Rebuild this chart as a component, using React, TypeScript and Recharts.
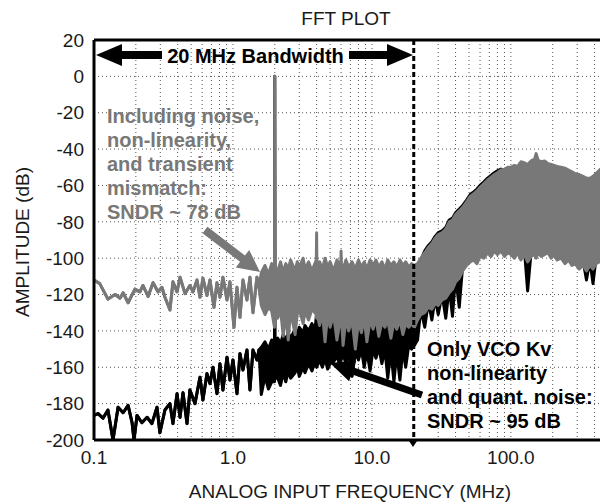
import React from 'react';
import { ComposedChart, Area, Line, XAxis, YAxis, CartesianGrid, ReferenceLine } from 'recharts';

const FONT = '"Liberation Sans", Arial, Helvetica, sans-serif';

const chartTitle = 'FFT PLOT';
const xTitle = 'ANALOG INPUT FREQUENCY (MHz)';
const yTitle = 'AMPLITUDE (dB)';

// log grid: every decade step, labels only on the decades
const xGridTicks = [
    0.1, 0.2, 0.3, 0.4, 0.5, 0.6, 0.7, 0.8, 0.9,
    1, 2, 3, 4, 5, 6, 7, 8, 9,
    10, 20, 30, 40, 50, 60, 70, 80, 90,
    100, 200, 300, 400, 500,
];
const xLabelTicks = [0.1, 1, 10, 100];
const yTicks = [-200, -180, -160, -140, -120, -100, -80, -60, -40, -20, 0, 20];

// [MHz, dB] - sparse part of the traces
const grayTrace = [
    [0.1, -112], [0.11, -114], [0.126, -122.5], [0.142, -120], [0.154, -122], [0.162, -119],
    [0.176, -124.5], [0.197, -117], [0.214, -118.5], [0.225, -115], [0.245, -121], [0.266, -113.5],
    [0.289, -118.5], [0.308, -116], [0.324, -121.5], [0.352, -128.5], [0.37, -113], [0.396, -118.5],
    [0.416, -110.5], [0.452, -119.5], [0.49, -115], [0.516, -118.5], [0.551, -112], [0.579, -121.5],
    [0.608, -111], [0.65, -120.5], [0.683, -112], [0.73, -127], [0.767, -113.5], [0.806, -121.5],
    [0.847, -110.5], [0.906, -123], [0.951, -113], [1.017, -138], [1.069, -116], [1.123, -132.5],
    [1.18, -112], [1.261, -123], [1.325, -110.5], [1.393, -130], [1.488, -110.5], [1.538, -116],
];

// [MHz, top dB, bottom dB] - dense part of the traces
const grayBand = [
    [1.6, -108, -126], [1.7, -104, -131], [1.8, -109, -127], [1.9, -103, -129], [1.99, -106, -138],
    [2.0, 0, -135], [2.01, -105, -130], [2.1, -107, -133], [2.2, -102, -128], [2.3, -108, -143],
    [2.4, -103, -130], [2.5, -106, -145], [2.6, -101, -129], [2.8, -107, -142], [2.9, -102, -131],
    [3.0, -105, -128], [3.2, -100, -136], [3.3, -106, -129], [3.5, -102, -134], [3.7, -107, -128],
    [3.98, -101, -131], [4.0, -86, -133], [4.02, -104, -130], [4.2, -102, -137], [4.4, -106, -130],
    [4.6, -100, -146], [4.8, -105, -131], [5.0, -102, -138], [5.3, -107, -131], [5.6, -101, -145],
    [5.97, -105, -132], [6.0, -96, -137], [6.03, -103, -132], [6.2, -106, -148], [6.5, -101, -133],
    [6.8, -105, -140], [7.2, -102, -134], [7.6, -106, -150], [8.0, -101, -135], [8.4, -105, -141],
    [8.8, -102, -133], [9.2, -106, -146], [9.7, -101, -134], [10.2, -104, -139], [10.7, -101, -133],
    [11.2, -105, -143], [11.8, -102, -135], [12.4, -106, -138], [13, -101, -134], [13.7, -104, -144],
    [14.4, -102, -135], [15.1, -105, -139], [15.9, -101, -134], [16.7, -104, -142], [17.5, -102, -136],
    [18.4, -105, -138], [19.3, -103, -136], [20.2, -104, -138],
    [21.3, -103, -134], [22.5, -100, -131], [24, -97, -130], [25.5, -94, -127], [27, -92, -128],
    [28.5, -89, -125], [30, -87, -126], [32, -86, -123], [34, -84, -122], [36, -80, -119],
    [38, -79, -117], [40, -76, -113], [42.5, -74, -111], [45, -72, -107], [48, -69, -104],
    [51, -66, -102], [54, -64.5, -101], [57, -63, -103], [60, -61, -99], [64, -59, -100],
    [68, -57, -97], [72, -55.5, -99], [76, -54, -96], [80, -53, -98], [85, -51.5, -96],
    [90, -51, -99], [95, -50, -97], [100, -50, -98], [106, -49, -100], [112, -49.5, -97],
    [118, -47, -101], [125, -47.5, -98], [132, -48.5, -102], [140, -46.5, -99], [148, -45.5, -98],
    [152, -42.5, -100], [157, -46, -97], [165, -47, -99], [175, -46.5, -98], [185, -48, -97],
    [195, -48.5, -100], [205, -49, -98], [215, -49.5, -101], [230, -50, -100], [245, -50.5, -103],
    [260, -51.5, -101], [275, -52.5, -104], [290, -53.5, -103], [310, -54, -106], [330, -55, -104],
    [350, -56, -107], [370, -56, -104], [390, -55, -106], [410, -53.5, -103], [435, -51.5, -102],
    [460, -50, -101], [485, -51, -102], [500, -51, -101],
];

const blackTrace = [
    [0.1, -186.5], [0.107, -185.5], [0.116, -188], [0.126, -183.5], [0.137, -200], [0.149, -182],
    [0.162, -185], [0.176, -181], [0.188, -190.5], [0.194, -200], [0.204, -186.5], [0.221, -190.5],
    [0.241, -187.5], [0.261, -191], [0.284, -182], [0.298, -196], [0.324, -183.5], [0.352, -180],
    [0.37, -191], [0.396, -174.5], [0.416, -187.5], [0.437, -174], [0.467, -191], [0.49, -172.5],
    [0.533, -180], [0.579, -165.5], [0.608, -178], [0.65, -163.5], [0.683, -169], [0.718, -160],
    [0.767, -174.5], [0.806, -158], [0.847, -172.5], [0.906, -154.5], [0.951, -167], [1.0, -156],
    [1.069, -174.5], [1.123, -152.5], [1.18, -161.5], [1.261, -150.5], [1.325, -172.5], [1.393, -150.5],
    [1.488, -156], [1.538, -150.5],
];

const blackBand = [
    [1.6, -149, -175], [1.7, -146, -165], [1.8, -150, -172], [1.9, -145, -168], [1.99, -147, -168],
    [2.0, 0, -152], [2.01, -146, -166], [2.1, -144, -166], [2.2, -147, -170], [2.3, -142, -163],
    [2.4, -145, -168], [2.5, -141, -162], [2.6, -144, -166], [2.8, -139, -163], [2.9, -142, -159],
    [3.0, -138, -165], [3.2, -141, -160], [3.3, -137, -163], [3.5, -140, -158], [3.7, -136, -162],
    [3.9, -139, -157], [4.0, -130, -160], [4.2, -138, -156], [4.4, -134, -160], [4.6, -137, -155],
    [4.8, -133, -161], [5.0, -136, -158], [5.3, -132, -157], [5.6, -135, -154], [5.9, -131, -159],
    [6.0, -128, -156], [6.2, -134, -153], [6.5, -131, -158], [6.8, -133, -152], [7.2, -130, -165],
    [7.6, -134, -152], [8.0, -131, -156], [8.4, -133, -150], [8.8, -130, -160], [9.2, -133, -151],
    [9.7, -130, -162], [10.2, -132, -150], [10.7, -129, -155], [11.2, -133, -149], [11.8, -130, -158],
    [12.4, -132, -150], [13, -129, -166], [13.7, -133, -151], [14.4, -130, -168], [15.1, -133, -152],
    [15.9, -131, -167], [16.7, -134, -150], [17.5, -131, -160], [18.4, -134, -148], [19.3, -133, -150],
    [20.2, -135, -148],
    [21.3, -104, -145], [22.5, -101, -128], [24, -96, -138], [25.5, -93, -124], [27, -91, -134],
    [28.5, -88, -122], [30, -86, -131], [32, -85, -120], [34, -83, -133], [36, -79, -116],
    [38, -78, -132], [40, -75, -110], [42.5, -73, -127], [45, -71, -104], [48, -68, -101],
    [51, -65, -99], [54, -63.5, -98], [57, -62, -100], [60, -60, -96], [64, -58, -97],
    [68, -56, -94], [72, -54.5, -96], [76, -53, -93], [80, -52, -95], [85, -51, -93],
    [90, -51.5, -96], [95, -51.5, -94], [100, -52, -95], [106, -51, -97], [112, -51.5, -94],
    [118, -49, -98], [125, -49.5, -95], [132, -50.5, -118], [140, -48.5, -96], [148, -47.5, -95],
    [152, -44.5, -97], [157, -48, -94], [165, -49, -96], [175, -48.5, -95], [185, -50, -94],
    [195, -50.5, -97], [205, -51, -95], [215, -51.5, -98], [230, -52, -97], [245, -52.5, -100],
    [260, -53.5, -98], [275, -54.5, -101], [290, -55.5, -100], [310, -56, -103], [330, -57, -101],
    [350, -58, -112], [370, -58, -101], [390, -57, -114], [410, -55.5, -100], [435, -53.5, -99],
    [460, -52, -98], [485, -53, -99], [500, -53, -98],
];

// 20 MHz band edge, drawn as a series so the traces sit on top of it
const bandEdge = [
    { f: 20, v: 20 },
    { f: 20, v: -200 },
];
const bandwidthLabel = '20 MHz Bandwidth';
const grayNote = ['Including noise,', 'non-linearity,', 'and transient', 'mismatch:', 'SNDR ~ 78 dB'];
const blackNote = ['Only VCO Kv', 'non-linearity', 'and quant. noise:', 'SNDR ~ 95 dB'];

const GRAY = '#787878';

// sparse points become zero-height ranges so one Area draws the whole trace
function toSeries(trace: number[][], band: number[][]) {
    return [
        ...trace.map(([f, v]) => ({ f, r: [v, v] })),
        ...band.map(([f, hi, lo]) => ({ f, r: [lo, hi] })),
    ];
}

const graySeries = toSeries(grayTrace, grayBand);
const blackSeries = toSeries(blackTrace, blackBand);

function Arrow({ from, to, shaft, headLen, headHalf, color }: {
    from: number[]; to: number[]; shaft: number; headLen: number; headHalf: number; color: string;
}) {
    const dx = to[0] - from[0];
    const dy = to[1] - from[1];
    const len = Math.hypot(dx, dy);
    const ux = dx / len, uy = dy / len;
    const nx = -uy, ny = ux;
    const bx = to[0] - ux * headLen, by = to[1] - uy * headLen;
    const s = shaft / 2;
    const pts = [
        [from[0] + nx * s, from[1] + ny * s],
        [bx + nx * s, by + ny * s],
        [bx + nx * headHalf, by + ny * headHalf],
        to,
        [bx - nx * headHalf, by - ny * headHalf],
        [bx - nx * s, by - ny * s],
        [from[0] - nx * s, from[1] - ny * s],
    ];
    return <polygon points={pts.map(p => p.join(',')).join(' ')} fill={color} />;
}

export default function App() {
    const tickStyle = { fontSize: 19, fill: '#1a1a1a', fontFamily: FONT };

    return (
        <div style={{ position: 'absolute', left: 0, top: 0, width: 600, height: 502, overflow: 'hidden', background: '#fff', fontFamily: FONT }}>
            <ComposedChart width={620} height={502} margin={{ top: 40, right: 12, bottom: 0, left: 0 }}>
                <CartesianGrid stroke="#555" strokeDasharray="1 3" />
                <XAxis
                    type="number"
                    dataKey="f"
                    scale="log"
                    domain={[0.1, 500]}
                    allowDataOverflow
                    ticks={xGridTicks}
                    interval={0}
                    tickFormatter={(v: number) => (xLabelTicks.includes(v) ? v.toFixed(1) : '')}
                    height={62}
                    tickLine={false}
                    tickMargin={5}
                    tick={tickStyle}
                    axisLine={{ stroke: '#000', strokeWidth: 3 }}
                />
                <YAxis
                    type="number"
                    domain={[-200, 20]}
                    allowDataOverflow
                    ticks={yTicks}
                    interval={0}
                    width={94}
                    tickLine={false}
                    tickMargin={4}
                    tick={tickStyle}
                    axisLine={{ stroke: '#000', strokeWidth: 3 }}
                />
                <Line
                    data={bandEdge}
                    dataKey="v"
                    stroke="#000"
                    strokeWidth={3}
                    strokeDasharray="5 3"
                    dot={false}
                    activeDot={false}
                    isAnimationActive={false}
                />
                <Area
                    data={blackSeries}
                    dataKey="r"
                    type="linear"
                    stroke="#000"
                    fill="#000"
                    fillOpacity={1}
                    strokeWidth={3}
                    strokeLinejoin="round"
                    dot={false}
                    activeDot={false}
                    isAnimationActive={false}
                />
                <Area
                    data={graySeries}
                    dataKey="r"
                    type="linear"
                    stroke={GRAY}
                    fill={GRAY}
                    fillOpacity={1}
                    strokeWidth={3}
                    strokeLinejoin="round"
                    dot={false}
                    activeDot={false}
                    isAnimationActive={false}
                />
                <ReferenceLine y={20} stroke="#000" strokeWidth={3} />
            </ComposedChart>

            <svg width={600} height={502} style={{ position: 'absolute', left: 0, top: 0, pointerEvents: 'none' }}>
                <text x={346} y={25} textAnchor="middle" fontSize={19} fill="#1a1a1a">{chartTitle}</text>
                <text x={350} y={498} textAnchor="middle" fontSize={19} fill="#1a1a1a">{xTitle}</text>
                <text x={29} y={242} textAnchor="middle" fontSize={19} fill="#1a1a1a" transform="rotate(-90 29 242)">{yTitle}</text>

                <Arrow from={[162, 55]} to={[96, 55]} shaft={8} headLen={26} headHalf={11} color="#000" />
                <Arrow from={[349, 55]} to={[413, 55]} shaft={8} headLen={26} headHalf={11} color="#000" />
                <text x={255.5} y={63} textAnchor="middle" fontSize={20} fontWeight="bold" fill="#000">{bandwidthLabel}</text>

                {grayNote.map((line, i) => (
                    <text key={line} x={107} y={122.5 + i * 24} fontSize={20} fontWeight="bold" fill={GRAY}>{line}</text>
                ))}
                <Arrow from={[205, 230]} to={[260, 272]} shaft={8} headLen={22} headHalf={11} color={GRAY} />

                {blackNote.map((line, i) => (
                    <text key={line} x={427} y={356 + i * 24} fontSize={20} fontWeight="bold" fill="#000">{line}</text>
                ))}
                <Arrow from={[422, 395]} to={[330, 363]} shaft={7} headLen={24} headHalf={11} color="#000" />
                <polygon points="409,441 417,441 413,447" fill="#000" />
            </svg>
        </div>
    );
}
